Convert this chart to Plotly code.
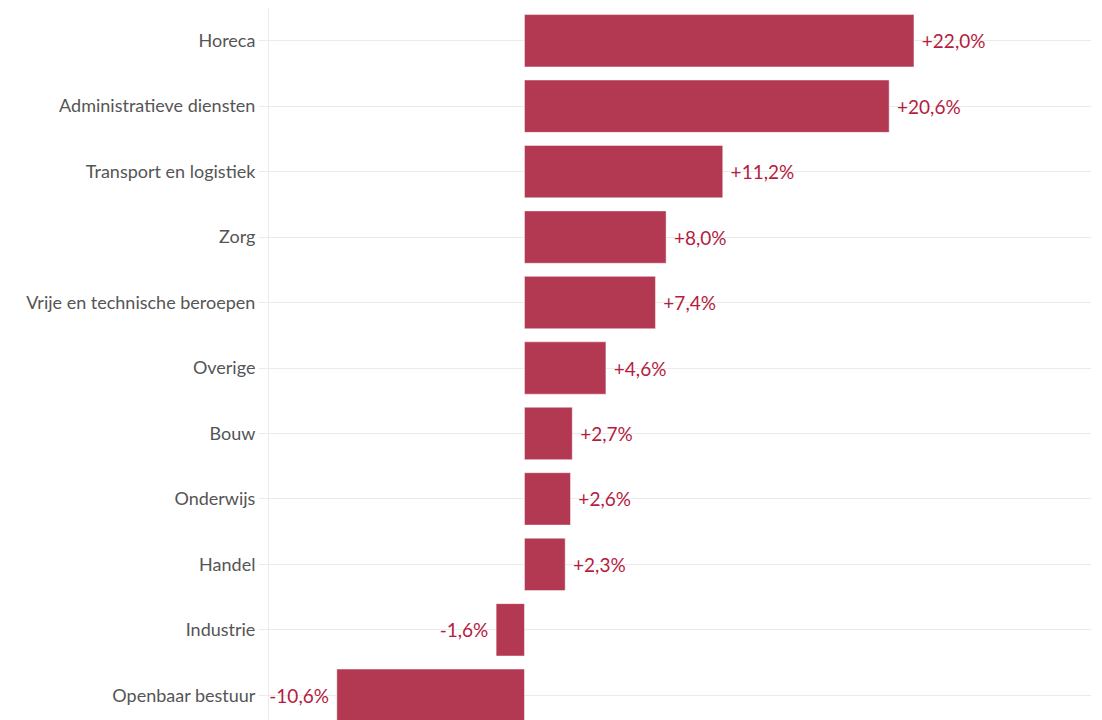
import plotly.graph_objects as go

categories = ["Horeca", "Administratieve diensten", "Transport en logistiek", "Zorg",
              "Vrije en technische beroepen", "Overige", "Bouw", "Onderwijs", "Handel",
              "Industrie", "Openbaar bestuur"]
values = [22.0, 20.6, 11.2, 8.0, 7.4, 4.6, 2.7, 2.6, 2.3, -1.6, -10.6]
labels = ["+22,0%", "+20,6%", "+11,2%", "+8,0%", "+7,4%", "+4,6%", "+2,7%", "+2,6%",
          "+2,3%", "-1,6%", "-10,6%"]

text = [(" " + t) if v >= 0 else (t + " ") for t, v in zip(labels, values)]

fig = go.Figure(go.Bar(
    x=values, y=categories, orientation="h",
    marker=dict(color="rgb(179,57,82)", line=dict(color="rgba(255,255,255,0.45)", width=1)),
    text=text, textposition="outside", cliponaxis=False,
    textfont=dict(color="rgb(181,28,64)", size=19, family="Lato"),
    hoverinfo="skip",
))

fig.update_layout(
    width=1102, height=720,
    margin=dict(l=261, r=19, t=0, b=0),
    plot_bgcolor="white", paper_bgcolor="white",
    bargap=0.2, showlegend=False,
    font=dict(family="Lato", size=16, color="#555555"),
)
fig.update_xaxes(range=[-14.43, 32.0], showgrid=False, zeroline=False,
                 showticklabels=False, ticks="")
fig.update_yaxes(range=[10.5, -0.5], showgrid=True, gridcolor="#ebebeb", gridwidth=1,
                 ticks="outside", ticklen=9, tickcolor="#ebebeb",
                 showline=True, linecolor="#ebebeb", linewidth=1,
                 tickfont=dict(size=18, color="#555555"), automargin=False)

fig.write_html("out.html")
